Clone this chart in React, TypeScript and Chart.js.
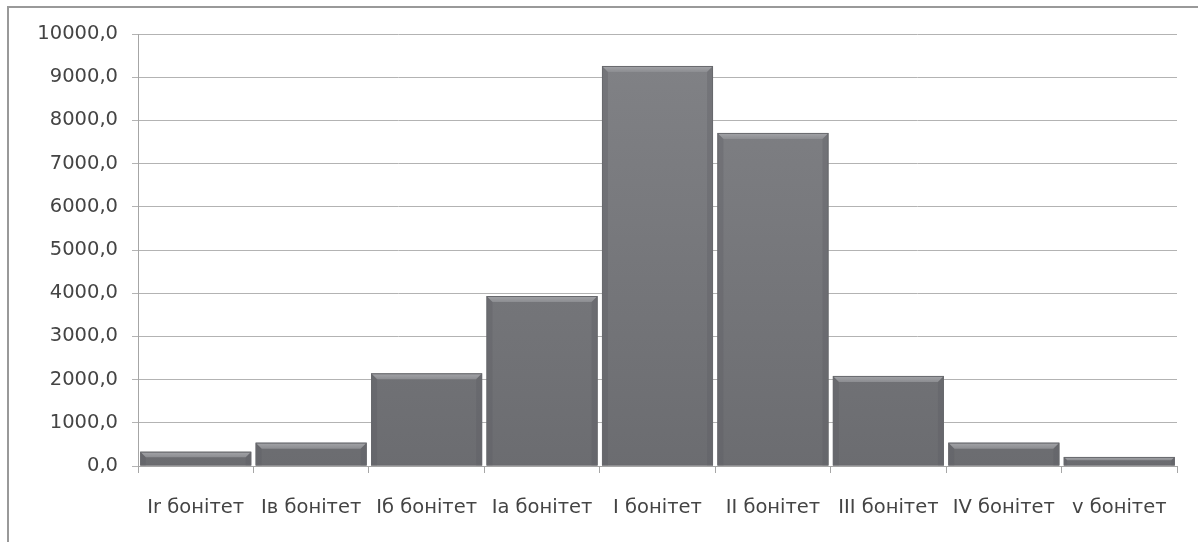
import React, { useEffect, useRef } from "react";
import { Chart, registerables } from "chart.js";

Chart.register(...registerables);

const categories = [
  "Ir бонітет",
  "Iв бонітет",
  "Iб бонітет",
  "Ia бонітет",
  "I бонітет",
  "II бонітет",
  "III бонітет",
  "IV бонітет",
  "v бонітет",
];
const values = [330, 540, 2145, 3935, 9260, 7710, 2085, 540, 210];
const yMin = 0;
const yMax = 10000;
const yStep = 1000;

const bevelPlugin = {
  id: "bevel",
  afterDatasetsDraw(chart: any) {
    const ctx = chart.ctx;
    const meta = chart.getDatasetMeta(0);
    meta.data.forEach((bar: any) => {
      const { x, y, base, width } = bar.getProps(["x", "y", "base", "width"], true);
      const left = x - width / 2;
      const right = x + width / 2;
      const h = base - y;
      const b = Math.min(6, h / 2.5);
      ctx.save();
      const g = ctx.createLinearGradient(0, y, 0, y + b);
      g.addColorStop(0, "#a4a5a9");
      g.addColorStop(1, "#8c8d91");
      ctx.fillStyle = g;
      ctx.beginPath();
      ctx.moveTo(left, y);
      ctx.lineTo(right, y);
      ctx.lineTo(right - b, y + b);
      ctx.lineTo(left + b, y + b);
      ctx.closePath();
      ctx.fill();
      ctx.fillStyle = "rgba(90,91,95,0.3)";
      ctx.beginPath();
      ctx.moveTo(left, y);
      ctx.lineTo(left + b, y + b);
      ctx.lineTo(left + b, base);
      ctx.lineTo(left, base);
      ctx.closePath();
      ctx.fill();
      ctx.beginPath();
      ctx.moveTo(right, y);
      ctx.lineTo(right - b, y + b);
      ctx.lineTo(right - b, base);
      ctx.lineTo(right, base);
      ctx.closePath();
      ctx.fill();
      ctx.strokeStyle = "#68696d";
      ctx.lineWidth = 1;
      ctx.strokeRect(left + 0.5, y + 0.5, width - 1, h - 1);
      ctx.restore();
    });
  },
};

export default function App() {
  const ref = useRef<HTMLCanvasElement>(null);
  useEffect(() => {
    const canvas = ref.current!;
    const ctx = canvas.getContext("2d")!;
    const grad = ctx.createLinearGradient(0, 30, 0, 470);
    grad.addColorStop(0, "#828387");
    grad.addColorStop(1, "#6b6c70");
    const font = { family: "'DejaVu Sans', sans-serif", size: 19.5 };
    const chart = new Chart(canvas, {
      type: "bar",
      data: {
        labels: categories,
        datasets: [
          {
            data: values,
            backgroundColor: grad,
            borderWidth: 0,
            barPercentage: 0.962,
            categoryPercentage: 1,
          },
        ],
      },
      options: {
        animation: false,
        responsive: false,
        maintainAspectRatio: false,
        layout: { padding: { top: 34, right: 21, left: 0, bottom: 0 } },
        plugins: {
          legend: { display: false },
          tooltip: { enabled: false },
        },
        scales: {
          x: {
            grid: {
              drawOnChartArea: false,
              drawTicks: true,
              tickLength: 7,
              color: "#a6a6a6",
              offset: true,
            },
            border: { color: "#a6a6a6", width: 1 },
            ticks: {
              color: "#444444",
              font,
              padding: 23,
              maxRotation: 0,
              autoSkip: false,
            },
            afterFit: (s: any) => {
              s.height = 76;
            },
          },
          y: {
            min: yMin,
            max: yMax,
            grid: {
              color: "#b3b3b3",
              drawTicks: true,
              tickLength: 6,
            },
            border: { color: "#a6a6a6", width: 1 },
            ticks: {
              stepSize: yStep,
              color: "#444444",
              font,
              padding: 14,
              callback: (v: any) => Number(v).toFixed(1).replace(".", ","),
            },
            afterFit: (s: any) => {
              s.width = 138;
            },
          },
        },
      },
      plugins: [bevelPlugin],
    });
    return () => chart.destroy();
  }, []);

  return (
    <div
      style={{
        position: "fixed",
        left: 0,
        top: 0,
        width: 1198,
        height: 542,
        background: "#fff",
      }}
    >
      <div
        style={{
          position: "absolute",
          left: 7,
          top: 6,
          right: -10,
          bottom: -10,
          borderTop: "2px solid #999",
          borderLeft: "2px solid #999",
        }}
      />
      <canvas
        ref={ref}
        width={1198}
        height={542}
        style={{ position: "absolute", left: 0, top: 0, width: 1198, height: 542 }}
      />
    </div>
  );
}
